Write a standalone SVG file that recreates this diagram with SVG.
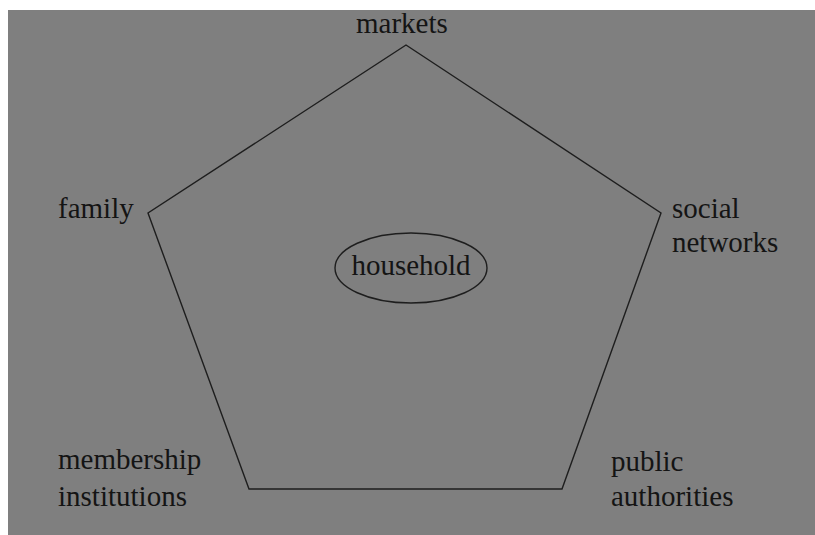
<svg xmlns="http://www.w3.org/2000/svg" width="815" height="535" viewBox="0 0 815 535">
<style>
.lbl{font-family:"Liberation Serif","Times New Roman",serif;font-size:29px;fill:#141414}
.ln{fill:none;stroke:#1e1e1e;stroke-width:1.4}
</style>
<rect x="0" y="0" width="815" height="535" fill="#ffffff"/>
<rect x="8" y="10" width="807" height="525" fill="#7f7f7f"/>
<g id="connectors">
<polygon class="ln" points="406,45 661,213 562,489 249,489 148,213"/>
</g>
<g id="markets"><text class="lbl" x="356" y="33">markets</text></g>
<g id="family"><text class="lbl" x="58" y="218">family</text></g>
<g id="social-networks"><text class="lbl" x="672" y="218">social</text><text class="lbl" x="672" y="252">networks</text></g>
<g id="household"><ellipse class="ln" cx="411" cy="268" rx="76" ry="35"/><text class="lbl" x="411" y="275" text-anchor="middle">household</text></g>
<g id="membership-institutions"><text class="lbl" x="58" y="469">membership</text><text class="lbl" x="58" y="506">institutions</text></g>
<g id="public-authorities"><text class="lbl" x="611" y="471">public</text><text class="lbl" x="611" y="506">authorities</text></g>
</svg>
